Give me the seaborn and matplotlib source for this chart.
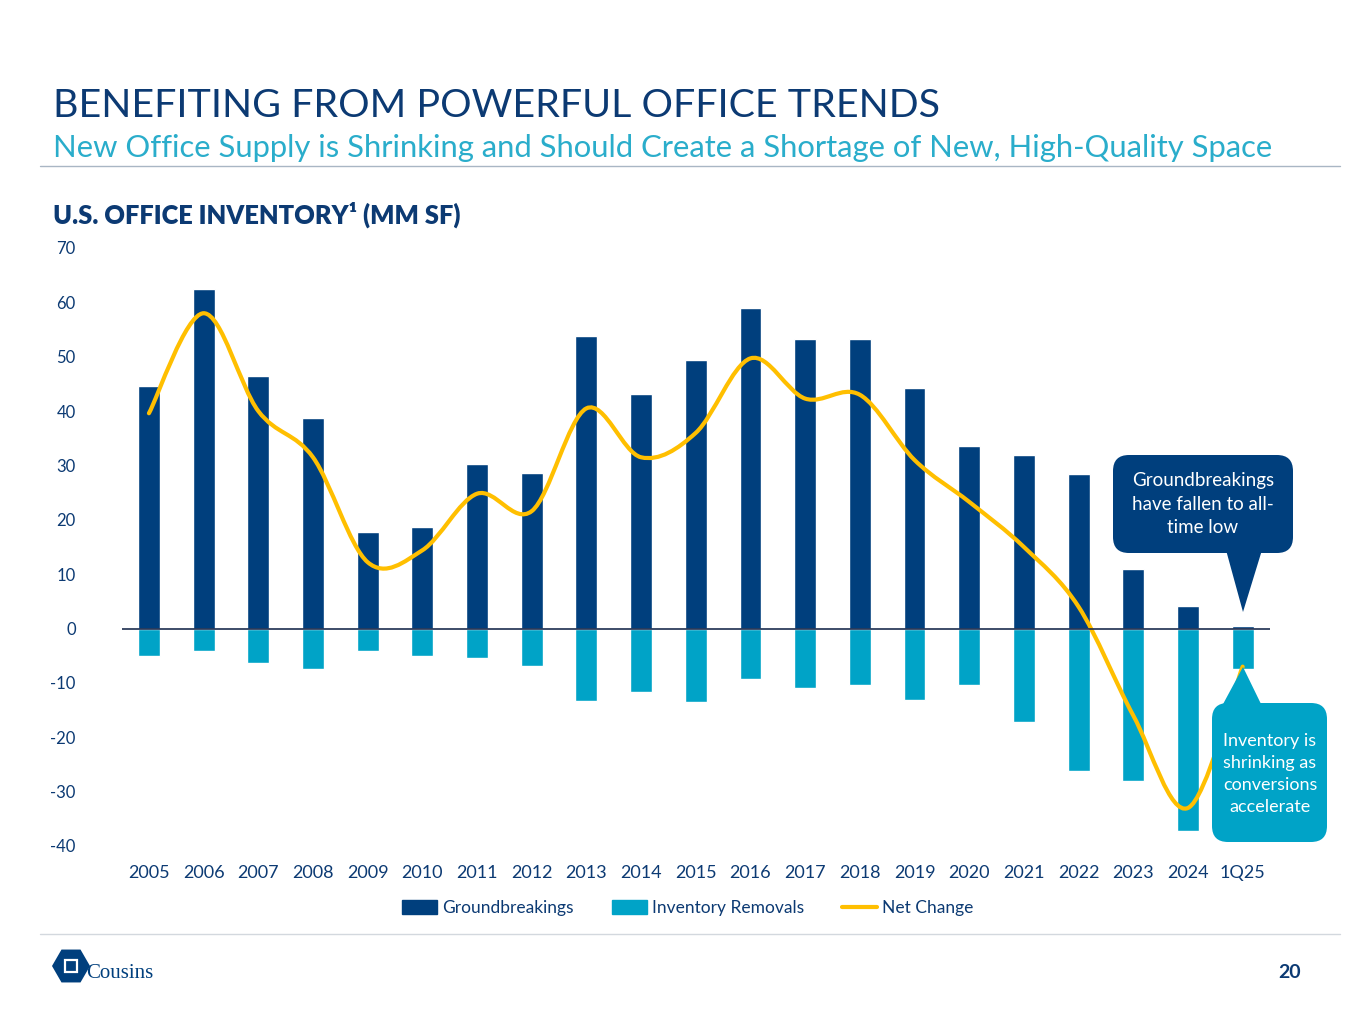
import numpy as np
import pandas as pd
import seaborn as sns
import matplotlib.pyplot as plt
import matplotlib.patches as mpatches
from matplotlib.path import Path
from matplotlib.lines import Line2D

# data (MM SF)
periods = ["2005", "2006", "2007", "2008", "2009", "2010", "2011", "2012", "2013", "2014",
           "2015", "2016", "2017", "2018", "2019", "2020", "2021", "2022", "2023", "2024", "1Q25"]
groundbreakings = [44.6, 62.4, 46.4, 38.7, 17.7, 18.6, 30.2, 28.7, 53.8, 43.1,
                   49.4, 58.9, 53.2, 53.2, 44.2, 33.5, 32.0, 28.5, 10.9, 4.2, 0.5]
removals = [-5.0, -4.2, -6.3, -7.4, -4.2, -5.0, -5.5, -6.8, -13.3, -11.6,
            -13.6, -9.2, -10.9, -10.3, -13.1, -10.3, -17.1, -26.2, -28.0, -37.2, -7.4]
net_change = [39.6, 58.0, 40.0, 31.5, 12.2, 14.4, 24.8, 21.6, 40.5, 31.5,
              36.0, 49.7, 42.3, 43.0, 31.0, 23.3, 15.0, 4.0, -16.0, -33.0, -7.0]
y_ticks = list(range(-40, 71, 10))

NAVY = "#003F7D"
TEAL = "#00A3C7"
GOLD = "#FFBF00"
TEXT = "#0C3A73"
SUB = "#2AADCB"

sns.set_theme(style="white")
plt.rcParams['font.family'] = ['Lato', 'DejaVu Sans']
plt.rcParams['axes.unicode_minus'] = False

W, H = 1365, 1032
fig = plt.figure(figsize=(W / 100, H / 100), dpi=100)
ax = fig.add_axes([121.6 / W, 1 - 846 / H, (1270 - 121.6) / W, (846 - 248) / H])

df = pd.DataFrame({"period": periods, "gb": groundbreakings, "rm": removals})
sns.barplot(data=df, x="period", y="gb", color=NAVY, width=0.4, saturation=1,
            errorbar=None, ax=ax, zorder=2)
sns.barplot(data=df, x="period", y="rm", color=TEAL, width=0.4, saturation=1,
            errorbar=None, ax=ax, zorder=2)

# smoothed net change line (catmull-rom -> bezier, like the excel "smoothed line")
pts = np.column_stack([np.arange(len(periods)), net_change])
ext = np.vstack([pts[0], pts, pts[-1]])
verts = [pts[0]]
codes = [Path.MOVETO]
for i in range(len(pts) - 1):
    p0, p1, p2, p3 = ext[i], ext[i + 1], ext[i + 2], ext[i + 3]
    verts += [p1 + (p2 - p0) / 6, p2 - (p3 - p1) / 6, p2]
    codes += [Path.CURVE4] * 3
ax.add_patch(mpatches.PathPatch(Path(verts, codes), fill=False, edgecolor=GOLD,
                                lw=3, capstyle="round", zorder=3))

ax.axhline(0, color="#1C2D4F", lw=1.2, zorder=4)
ax.set_xlim(-0.5, len(periods) - 0.5)
ax.set_ylim(-40, 70)
ax.set_yticks(y_ticks)
ax.set_xlabel("")
ax.set_ylabel("")
ax.tick_params(axis="y", length=0, pad=33, labelsize=12, labelcolor=TEXT)
ax.tick_params(axis="x", length=0, pad=14, labelsize=13, labelcolor=TEXT)
for s in ax.spines.values():
    s.set_visible(False)
ax.patch.set_alpha(0)

# legend
handles = [mpatches.Patch(color=NAVY, label="Groundbreakings"),
           mpatches.Patch(color=TEAL, label="Inventory Removals"),
           Line2D([], [], color=GOLD, lw=3, label="Net Change")]
fig.legend(handles=handles, loc="center", bbox_to_anchor=(688 / W, 1 - 908 / H), ncol=3,
           frameon=False, fontsize=12.5, labelcolor=TEXT, handlelength=2.0,
           handleheight=0.8, handletextpad=0.3, columnspacing=2.2)

# overlay in pixel coords for page furniture
ov = fig.add_axes([0, 0, 1, 1], zorder=5)
ov.set_xlim(0, W)
ov.set_ylim(H, 0)
ov.axis("off")
ov.patch.set_alpha(0)

ov.text(53, 117, "BENEFITING FROM POWERFUL OFFICE TRENDS", fontsize=28.4, color=TEXT,
        va="baseline", ha="left")
ov.text(53, 157, "New Office Supply is Shrinking and Should Create a Shortage of New, High-Quality Space",
        fontsize=22.3, color=SUB, va="baseline", ha="left")
ov.plot([40, 1340], [166, 166], color="#A9B6C4", lw=1)
ov.text(53, 224, "U.S. OFFICE INVENTORY¹ (MM SF)", fontsize=18.4, color=TEXT,
        fontweight="heavy", va="baseline", ha="left")
ov.plot([40, 1340], [934, 934], color="#D3D8DE", lw=1)

# callouts
ov.add_patch(mpatches.FancyBboxPatch((1113, 455), 180, 98,
                                     boxstyle="round,pad=0,rounding_size=16",
                                     facecolor=NAVY, edgecolor="none"))
ov.add_patch(mpatches.Polygon([(1226, 550), (1262, 550), (1243, 612)], facecolor=NAVY,
                              edgecolor="none"))
ov.text(1203, 504, "Groundbreakings\nhave fallen to all-\ntime low", color="white",
        fontsize=13.5, ha="center", va="center", linespacing=1.45)

ov.add_patch(mpatches.FancyBboxPatch((1212, 703), 115, 139,
                                     boxstyle="round,pad=0,rounding_size=16",
                                     facecolor=TEAL, edgecolor="none"))
ov.add_patch(mpatches.Polygon([(1222, 706), (1262, 706), (1243, 667)], facecolor=TEAL,
                              edgecolor="none"))
ov.text(1270, 774, "Inventory is\nshrinking as\nconversions\naccelerate", color="white",
        fontsize=13, ha="center", va="center", linespacing=1.45)

# footer logo + page number
ov.add_patch(mpatches.RegularPolygon((71, 966), 6, radius=19, orientation=np.pi / 6,
                                     facecolor=NAVY, edgecolor="none"))
ov.add_patch(mpatches.RegularPolygon((71, 966), 4, radius=9, orientation=np.pi / 4,
                                     facecolor="none", edgecolor="white", lw=1.6))
ov.text(86, 978, "Cousins", fontsize=15, color=NAVY, family="Liberation Serif",
        va="baseline", ha="left")
ov.text(1301, 978, "20", fontsize=14, color=TEXT, fontweight="bold", va="baseline", ha="right")

fig.savefig("out.png", dpi=100)
